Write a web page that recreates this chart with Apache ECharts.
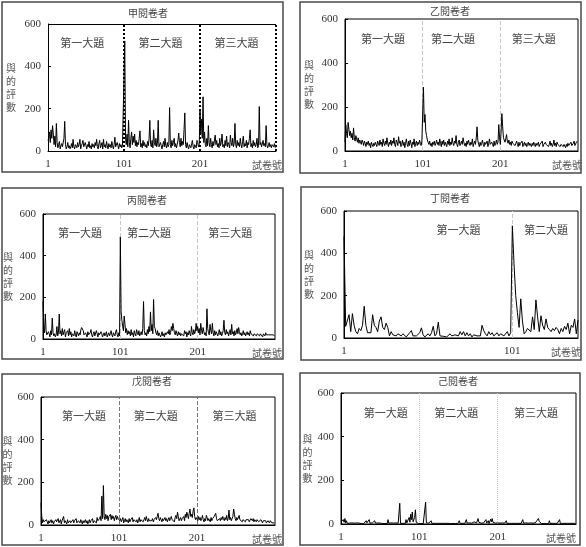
<!DOCTYPE html>
<html><head><meta charset="utf-8">
<script src="https://cdn.jsdelivr.net/npm/echarts@6/dist/echarts.min.js"></script>
<style>html,body{margin:0;padding:0;background:#fff}#c{width:586px;height:547px}</style>
</head><body><div id="c"></div>
<script>
// ---------- data ----------
const raterNames = ['甲閱卷者','乙閱卷者','丙閱卷者','丁閱卷者','戊閱卷者','己閱卷者'];
const sectionNames = ['第一大題','第二大題','第三大題'];
const xTickLabels = ['1','101','201'];
const xAxisTitle = '試卷號';
const yAxisTitle = '與的評數';
const yTicks = [0, 200, 400, 600];

const jia = [
50,60,90,40,100,60,120,80,30,70,20,130,40,15,30,45,10,25,35,20,
15,60,140,30,10,20,40,15,25,10,20,35,15,55,20,10,30,25,15,40,
20,30,55,10,25,35,50,20,15,40,25,10,30,20,45,15,25,10,35,20,
30,15,40,25,55,20,10,35,50,15,25,40,10,55,20,30,15,45,25,10,
35,20,30,15,45,25,10,30,65,20,15,40,25,10,35,20,30,15,25,20,
30,520,60,30,80,20,145,40,15,60,90,30,70,40,80,25,50,20,40,30,
60,95,20,35,15,50,25,40,20,30,15,45,25,60,145,30,20,50,15,100,
40,25,60,20,35,145,20,15,40,25,10,30,45,20,60,25,15,40,20,30,
205,30,15,50,25,40,60,20,35,15,30,50,85,40,20,60,25,45,30,100,
180,30,15,40,20,10,30,25,15,35,50,20,10,30,25,15,50,40,20,30,
195,80,150,60,256,40,90,30,20,60,25,120,40,20,60,30,15,45,25,20,
75,30,50,20,35,15,60,25,40,80,20,30,15,50,25,70,20,40,30,15,
75,40,25,60,20,35,130,30,15,50,25,40,20,60,30,15,45,70,20,35,
25,50,15,40,30,60,100,20,35,15,50,25,40,20,30,60,15,25,210,30,
40,20,15,50,25,35,20,120,30,15,25,40,20,30,15,30,25,20,35,15];

const yi = [
40,120,80,60,130,100,70,90,60,80,50,105,60,45,70,55,40,60,35,50,
45,30,50,40,25,45,35,20,40,30,45,25,35,15,40,30,20,35,25,40,
30,20,45,35,25,50,30,40,20,55,35,25,45,30,60,35,20,40,30,50,
25,45,35,60,30,20,50,40,25,65,35,45,20,30,50,25,40,15,35,55,
30,20,45,25,50,35,15,40,30,55,20,35,45,25,40,30,50,35,25,45,
40,290,130,166,90,70,50,40,30,45,25,35,20,40,30,45,25,35,50,30,
40,25,55,35,20,45,30,50,25,40,35,20,45,30,55,25,40,30,60,35,
25,45,35,70,30,20,40,50,25,35,45,30,60,40,25,35,20,45,30,50,
35,25,40,30,55,20,35,45,30,60,110,50,30,20,40,25,35,50,30,20,
40,30,25,45,20,35,55,30,25,40,30,20,45,25,35,50,30,40,120,60,
30,90,170,110,60,50,40,55,75,45,35,50,30,40,25,45,35,30,40,25,
35,45,30,20,40,25,35,30,45,20,30,40,25,35,20,30,40,25,35,30,
20,35,25,40,30,20,35,25,30,40,20,30,25,35,45,20,30,25,40,30,
25,35,20,30,45,25,35,20,30,50,25,35,20,40,30,25,35,20,30,25,
35,20,30,25,15,30,20,35,25,20,30,40,25,20,35,45,25,30,40,45];

const bing = [
180,60,30,120,40,20,15,35,25,10,40,20,100,30,15,25,10,20,60,15,
30,120,25,40,15,50,20,35,45,10,30,25,40,15,50,20,35,10,25,30,
15,40,20,10,35,25,15,30,20,45,55,60,40,20,15,30,25,10,35,20,
15,30,45,20,10,25,35,15,20,40,25,10,30,20,15,35,25,10,20,30,
15,25,35,10,20,30,15,25,40,20,10,30,25,15,35,45,20,10,30,15,
490,130,90,60,40,110,70,30,50,20,40,25,35,15,45,20,30,10,40,25,
15,45,30,20,40,15,25,35,20,50,180,40,20,30,15,45,25,60,35,130,
40,70,25,190,60,50,30,20,40,15,30,25,10,20,35,15,25,10,30,20,
15,35,25,45,20,30,60,40,75,50,30,20,40,25,15,35,20,30,15,25,
20,30,15,40,25,35,10,30,20,40,25,15,60,30,20,45,25,35,75,40,
60,30,50,20,75,40,25,55,35,20,30,15,145,50,30,20,70,40,25,75,
30,15,40,20,35,25,15,30,45,20,35,15,25,40,90,30,20,45,25,35,
15,30,45,20,70,25,35,15,40,20,30,50,25,55,35,20,30,15,25,40,
20,30,15,25,35,20,30,15,40,25,20,30,15,25,20,30,15,25,20,30,
15,25,20,30,10,25,20,15,30,20,25,15,20,25,15,20,25,15,20,15];

const ding = [
480,55,60,110,30,115,60,30,20,45,35,60,150,60,25,20,25,110,60,50,
30,80,100,50,40,70,50,10,30,15,20,10,20,25,10,20,15,5,10,25,
35,10,5,10,8,25,48,15,5,10,20,10,25,55,10,20,75,10,5,8,
10,5,8,20,10,5,15,20,10,30,15,30,10,25,10,20,5,15,20,10,
15,10,60,35,20,10,30,15,25,10,15,25,10,20,25,10,15,30,10,25,
530,350,200,120,50,185,80,20,30,45,50,30,100,40,180,100,30,105,60,40,
90,50,40,30,45,35,50,40,20,45,30,55,40,70,20,60,50,90,20,85];

const wu = [
105,40,10,25,15,20,10,25,15,5,20,10,15,25,10,20,5,15,10,25,
15,20,30,10,15,25,5,20,15,40,10,20,15,5,25,10,15,20,10,5,
15,25,10,20,15,30,10,5,20,15,10,25,15,5,20,10,15,25,10,20,
5,15,25,10,20,15,30,10,20,15,25,10,35,20,15,30,40,20,135,30,
185,40,25,50,30,45,20,40,35,50,25,45,30,40,20,35,45,25,40,30,
35,20,30,15,25,35,10,20,30,15,25,20,10,30,15,25,20,35,15,25,
20,30,15,25,10,20,35,15,25,20,30,15,25,35,20,40,25,15,30,20,
15,25,20,30,15,25,20,35,25,40,55,30,20,35,25,15,30,20,25,35,
20,30,15,25,35,20,30,40,25,20,30,15,35,45,30,60,40,20,25,35,
20,30,25,40,20,50,35,60,45,30,55,75,40,50,35,65,80,40,25,35,
30,20,40,25,35,20,30,45,25,15,30,20,45,35,20,30,25,15,35,20,
30,25,40,35,55,30,20,25,15,30,20,35,25,40,30,20,35,25,45,20,
30,70,25,35,20,30,40,75,50,30,20,35,25,30,45,25,20,30,15,25,
20,30,15,25,20,30,25,15,20,30,25,20,30,15,25,20,15,25,20,15,
20,15,25,20,10,20,15,25,20,10,15,20,15,10,20,15,10,15,10,10];

const ji = [
10,5,3,20,8,25,5,15,3,5,2,4,3,2,5,3,2,4,3,2,
5,3,2,4,10,3,2,5,3,2,4,3,15,5,2,3,20,4,2,3,
5,2,3,15,4,2,3,5,2,3,4,2,3,2,5,3,2,4,3,2,
20,4,2,3,5,2,3,4,2,3,5,2,3,4,2,95,3,2,5,3,
2,4,3,20,5,2,10,30,8,45,20,55,10,5,30,65,8,3,5,2,
3,5,2,4,3,2,5,8,100,5,3,2,4,3,10,15,3,2,5,3,
2,4,3,2,5,3,2,4,3,2,5,3,2,4,3,2,5,3,12,3,
2,4,3,2,5,3,2,4,3,2,5,15,3,2,4,3,2,5,3,2,
20,4,3,2,5,3,2,4,3,2,10,15,3,5,12,25,8,3,2,4,
3,2,5,3,2,20,4,3,15,2,5,22,10,25,8,3,2,4,3,2,
5,3,2,4,3,2,5,3,2,4,3,15,3,2,4,3,2,5,3,2,
4,3,2,5,3,2,4,3,2,5,3,2,20,4,3,2,5,3,2,4,
3,2,5,3,2,4,3,2,5,10,15,20,25,12,5,3,2,4,3,2,
5,3,2,4,3,2,15,3,2,4,3,2,5,3,2,4,3,2,5,20,
3,2,4,3,2,5,3,2,4,3,2,10,3,2,4,3,2,5,3,2];

const allSeries = [jia, yi, bing, ding, wu, ji];
const sectionCounts = [3,3,3,2,3,3];

// ---------- layout ----------
const SERIF = '"Liberation Serif","DejaVu Serif",serif';
const CJK = '"Noto Sans CJK TC","Noto Sans CJK SC",sans-serif';
const layouts = [
 {grid:{left:48,top:24,width:228,height:127}, box:[2,2,281,170], title:[148,8], nameGap:32, xNameGap:6, labelX:[45,148,248], div:{color:'#000',type:'dotted',width:2}, xMax:300, edge:true},
 {grid:{left:345,top:19,width:233,height:132}, box:[300,2,281,171], title:[450,6], nameGap:31, xNameGap:4, labelX:[49,139,243], div:{color:'#c8c8c8',type:'dashed',width:1}, xMax:300},
 {grid:{left:43,top:214,width:232,height:125}, box:[2,188,281,171], title:[147,195], nameGap:30, xNameGap:7, labelX:[48,137,242], div:{color:'#c8c8c8',type:'dashed',width:1}, xMax:300},
 {grid:{left:344,top:211,width:234,height:127}, box:[301,187,280,173], title:[450,193], nameGap:30, xNameGap:3, labelX:[68,120], div:{color:'#c8c8c8',type:'dashed',width:1}, xMax:139},
 {grid:{left:41,top:397,width:234,height:128}, box:[2,374,281,171], title:[152,376], nameGap:28, xNameGap:7, labelX:[55,147,248], div:{color:'#777',type:'dashed',width:1}, xMax:300},
 {grid:{left:341,top:393,width:235,height:131}, box:[300,373,280,172], title:[458,376], nameGap:27, xNameGap:0, labelX:[57,147,249], div:{color:'#c8c8c8',type:'dotted',width:1}, xMax:300}
];
const LABEL_Y = 510;

const option = {animation:false, backgroundColor:'#fff', grid:[], xAxis:[], yAxis:[], series:[], title:[], graphic:[]};

layouts.forEach((L, p) => {
  option.graphic.push({type:'rect', shape:{x:L.box[0], y:L.box[1], width:L.box[2], height:L.box[3]},
    style:{fill:'none', stroke:'#4a4a4a', lineWidth:1.5}, silent:true, z:-1});
  option.title.push({text:raterNames[p], left:L.title[0], top:L.title[1], textAlign:'center', padding:0,
    textStyle:{fontFamily:CJK, fontSize:10, fontWeight:'normal', color:'#444'}});
  option.grid.push(Object.assign({outerBoundsMode:'none', containLabel:false,
    show:!L.edge, borderColor:'#000', borderWidth:1, backgroundColor:'transparent'}, L.grid));
  option.xAxis.push({type:'value', gridIndex:p, min:0, max:L.xMax, interval:100,
    splitLine:{show:false}, axisTick:{show:false},
    axisLine:{show:true, onZero:false, lineStyle:{color:'#000', width:1}},
    axisLabel:{margin:8, fontFamily:SERIF, fontSize:11, color:'#333', showMaxLabel:false,
      formatter: v => { const k = Math.round(v/100); return (v % 100 === 0 && k < xTickLabels.length) ? xTickLabels[k] : ''; }},
    name:xAxisTitle, nameLocation:'end', nameGap:L.xNameGap,
    nameTextStyle:{fontFamily:CJK, fontSize:10, color:'#555', align:'right', verticalAlign:'top', padding:[9,0,0,0]}});
  option.yAxis.push({type:'value', gridIndex:p, min:yTicks[0], max:yTicks[yTicks.length-1], interval:yTicks[1]-yTicks[0],
    splitLine:{show:false},
    axisTick:{show:true, inside:true, length:3, lineStyle:{color:'#000'}},
    axisLine:{show:true, lineStyle:{color:'#000', width:1}},
    axisLabel:{margin:7, fontFamily:SERIF, fontSize:11, color:'#333'},
    name:yAxisTitle.split('').join('\n'), nameLocation:'middle', nameRotate:0, nameGap:L.nameGap,
    nameTextStyle:{fontFamily:CJK, fontSize:10, color:'#555', lineHeight:13}});
  const vals = allSeries[p];
  const divData = [];
  for (let k = 1; k < sectionCounts[p]; k++) divData.push({xAxis:k*100});
  if (L.edge) {
    divData.push({xAxis:300});
    divData.push({yAxis:600, lineStyle:{type:'solid', width:1, color:'#000'}});
  }
  const mp = [];
  for (let k = 0; k < sectionCounts[p]; k++) mp.push({name:sectionNames[k], coord:[L.labelX[k], LABEL_Y]});
  option.series.push({type:'line', xAxisIndex:p, yAxisIndex:p, showSymbol:false, symbol:'none',
    lineStyle:{color:'#000', width:1}, itemStyle:{color:'#000'}, silent:true, z:3,
    data: vals.map((v, i) => [i, v]),
    markLine:{silent:true, symbol:['none','none'], label:{show:false}, z:2,
      lineStyle:{color:L.div.color, type:L.div.type, width:L.div.width}, data:divData},
    markPoint:{silent:true, symbol:'circle', symbolSize:0, itemStyle:{color:'transparent'},
      label:{show:true, position:'inside', formatter:'{b}', fontFamily:CJK, fontSize:11, color:'#444'},
      data:mp}
  });
});

const chart = echarts.init(document.getElementById('c'), null, {renderer:'canvas'});
chart.setOption(option);
</script>
</body></html>
